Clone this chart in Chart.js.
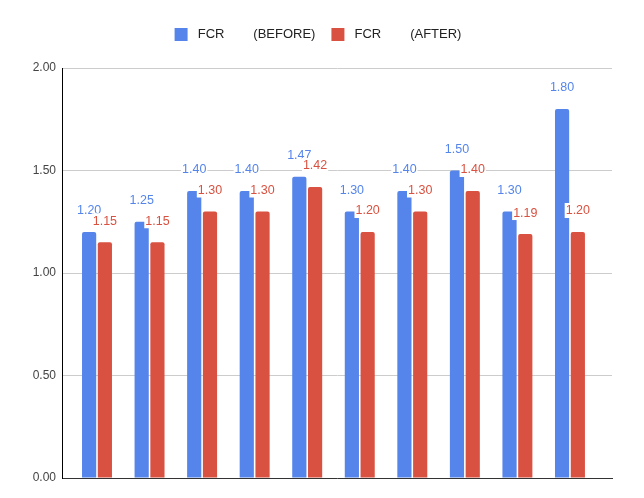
<!DOCTYPE html>
<html>
<head>
<meta charset="utf-8">
<script src="https://cdn.jsdelivr.net/npm/chart.js@4"></script>
<style>
  html, body { margin: 0; padding: 0; background: #fff; }
  #wrap { width: 644px; height: 498px; }
</style>
</head>
<body>
<div id="wrap"><canvas id="myChart"></canvas></div>
<script>
var categories = ['1', '2', '3', '4', '5', '6', '7', '8', '9', '10'];
var before = [1.20, 1.25, 1.40, 1.40, 1.47, 1.30, 1.40, 1.50, 1.30, 1.80];
var after = [1.15, 1.15, 1.30, 1.30, 1.42, 1.20, 1.30, 1.40, 1.19, 1.20];
var yTicks = [0, 0.5, 1, 1.5, 2];

var blue = '#5585eb';
var red = '#d95140';
var fontFamily = '"Liberation Sans", Arial, sans-serif';

// points on a linear x axis so the groups can sit inset from the axis line
function toPoints(values) {
    return values.map(function (v, i) { return { x: i + 1, y: v }; });
}

var valueLabels = {
    id: 'valueLabels',
    afterDatasetsDraw: function (chart) {
        var c = chart.ctx;
        c.save();
        c.font = '12.5px ' + fontFamily;
        c.textAlign = 'center';
        c.textBaseline = 'middle';
        chart.data.datasets.forEach(function (ds, di) {
            var meta = chart.getDatasetMeta(di);
            meta.data.forEach(function (bar, i) {
                var txt = ds.data[i].y.toFixed(2);
                var w = c.measureText(txt).width;
                var x = bar.x;
                var y = bar.y - 21;
                c.fillStyle = '#ffffff';
                c.fillRect(x - w / 2 - 1, y - 8, w + 2, 15);
                c.fillStyle = ds.backgroundColor;
                c.fillText(txt, x, y);
            });
        });
        c.restore();
    }
};

// extra room under the legend
var legendGap = {
    id: 'legendGap',
    beforeInit: function (chart) {
        var fit = chart.legend.fit;
        chart.legend.fit = function () {
            fit.bind(chart.legend)();
            this.height += 17;
        };
    }
};

var ctx = document.getElementById('myChart');

var chart = new Chart(ctx, {
    type: 'bar',
    data: {
        labels: categories,
        datasets: [{
            label: ' FCR        (BEFORE)',
            data: toPoints(before),
            backgroundColor: blue,
            borderRadius: 2,
            borderSkipped: 'bottom',
            categoryPercentage: 0.6,
            barPercentage: 0.9
        }, {
            label: ' FCR        (AFTER)',
            data: toPoints(after),
            backgroundColor: red,
            borderRadius: 2,
            borderSkipped: 'bottom',
            categoryPercentage: 0.6,
            barPercentage: 0.9
        }]
    },
    options: {
        responsive: true,
        maintainAspectRatio: false,
        animation: false,
        layout: {
            padding: { top: 12, right: 32, bottom: 12, left: 24 }
        },
        plugins: {
            legend: {
                position: 'top',
                labels: {
                    boxWidth: 13,
                    boxHeight: 13,
                    padding: 16,
                    color: '#222',
                    font: { family: fontFamily, size: 13 }
                }
            },
            tooltip: { enabled: false }
        },
        scales: {
            x: {
                type: 'linear',
                min: 0.334,
                max: 10.8,
                offset: false,
                ticks: { display: false },
                grid: { display: false },
                border: { display: true, color: '#333', width: 1 }
            },
            y: {
                min: 0,
                max: 2,
                afterBuildTicks: function (scale) {
                    scale.ticks = yTicks.map(function (v) { return { value: v }; });
                },
                afterFit: function (scale) { scale.width = 38; },
                ticks: {
                    color: '#444',
                    padding: 6,
                    font: { family: fontFamily, size: 12 },
                    callback: function (v) { return v.toFixed(2); }
                },
                grid: { color: '#cccccc', drawTicks: false },
                border: { display: true, color: '#000', width: 1 }
            }
        }
    },
    plugins: [valueLabels, legendGap]
});
</script>
</body>
</html>
